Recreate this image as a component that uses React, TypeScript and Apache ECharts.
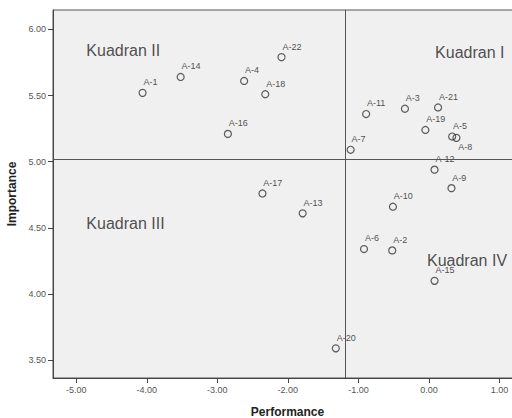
import React, { useEffect, useRef } from 'react';
import * as echarts from 'echarts';

const itemLabels = ['A-1','A-2','A-3','A-4','A-5','A-6','A-7','A-8','A-9','A-10','A-11','A-12','A-13','A-14','A-15','A-16','A-17','A-18','A-19','A-20','A-21','A-22'];
const performance = [-4.06,-0.52,-0.34,-2.62,0.33,-0.92,-1.11,0.39,0.32,-0.51,-0.89,0.08,-1.79,-3.52,0.08,-2.85,-2.36,-2.32,-0.05,-1.32,0.13,-2.09];
const importance = [5.52,4.33,5.40,5.61,5.19,4.34,5.09,5.18,4.80,4.66,5.36,4.94,4.61,5.64,4.10,5.21,4.76,5.51,5.24,3.59,5.41,5.79];
const belowLabelItems = ['A-8'];

const xTicks = [-5, -4, -3, -2, -1, 0, 1];
const yTicks = [3.5, 4, 4.5, 5, 5.5, 6];

const quadrantNames = ['Kuadran I', 'Kuadran II', 'Kuadran III', 'Kuadran IV'];
const quadrantX = [0.095, -4.85, -4.85, -0.02];
const quadrantY = [5.82, 5.84, 4.53, 4.25];

const performanceMean = -1.18;
const importanceMean = 5.02;

const FONT = '"Liberation Sans", Arial, sans-serif';

export default function App() {
  const ref = useRef<HTMLDivElement>(null);
  useEffect(() => {
    const chart = echarts.init(ref.current!, null, { renderer: 'svg' });
    const points = itemLabels.map((name, i) => {
      const below = belowLabelItems.includes(name);
      return {
        name,
        value: [performance[i], importance[i]],
        label: below ? { position: [6, 13] } : undefined,
      };
    });
    chart.setOption({
      animation: false,
      backgroundColor: '#ffffff',
      grid: {
        left: 53,
        top: 10,
        bottom: 40,
        right: -10,
        containLabel: false,
        outerBoundsMode: 'none',
        show: true,
        backgroundColor: '#f0f0f0',
        borderColor: '#555',
        borderWidth: 1,
      },
      xAxis: {
        type: 'value',
        min: -5.33,
        max: 1.32,
        name: 'Performance',
        nameLocation: 'middle',
        nameGap: 28,
        nameTextStyle: { fontFamily: FONT, fontSize: 12, fontWeight: 'bold', color: '#222' },
        axisLine: { show: true, onZero: false, lineStyle: { color: '#444', width: 1 } },
        axisTick: { show: true, length: 5, customValues: xTicks, lineStyle: { color: '#444' } },
        axisLabel: {
          customValues: xTicks,
          formatter: (v: number) => v.toFixed(2),
          fontFamily: FONT,
          fontSize: 9,
          color: '#555',
          margin: 7,
        },
        splitLine: { show: false },
      },
      yAxis: {
        type: 'value',
        min: 3.366,
        max: 6.146,
        name: 'Importance',
        nameLocation: 'middle',
        nameGap: 25,
        nameTextStyle: { fontFamily: FONT, fontSize: 12, fontWeight: 'bold', color: '#222' },
        axisLine: { show: true, onZero: false, lineStyle: { color: '#444', width: 1 } },
        axisTick: { show: true, length: 5, customValues: yTicks, lineStyle: { color: '#444' } },
        axisLabel: {
          customValues: yTicks,
          formatter: (v: number) => v.toFixed(2),
          fontFamily: FONT,
          fontSize: 9,
          color: '#555',
          margin: 7,
        },
        splitLine: { show: false },
      },
      series: [
        {
          type: 'scatter',
          symbol: 'circle',
          symbolSize: 7,
          itemStyle: { color: 'rgba(0,0,0,0)', borderColor: '#333', borderWidth: 1.2 },
          label: {
            show: true,
            formatter: '{b}',
            position: [5, -6.5],
            align: 'left',
            verticalAlign: 'middle',
            fontFamily: FONT,
            fontSize: 9,
            color: '#222',
          },
          data: points,
          markLine: {
            silent: true,
            symbol: 'none',
            label: { show: false },
            lineStyle: { color: '#555', width: 1, type: 'solid' },
            data: [{ xAxis: performanceMean }, { yAxis: importanceMean }],
          },
          z: 3,
        },
        {
          type: 'scatter',
          symbol: 'circle',
          symbolSize: 1,
          itemStyle: { color: 'rgba(0,0,0,0)' },
          label: {
            show: true,
            formatter: '{b}',
            position: [0, 0],
            align: 'left',
            verticalAlign: 'middle',
            fontFamily: FONT,
            fontSize: 16,
            color: '#222',
          },
          data: quadrantNames.map((n, i) => ({ name: n, value: [quadrantX[i], quadrantY[i]] })),
          z: 2,
        },
      ],
    });
    return () => chart.dispose();
  }, []);
  return <div ref={ref} style={{ position: 'fixed', left: 0, top: 0, width: 512, height: 418 }} />;
}
